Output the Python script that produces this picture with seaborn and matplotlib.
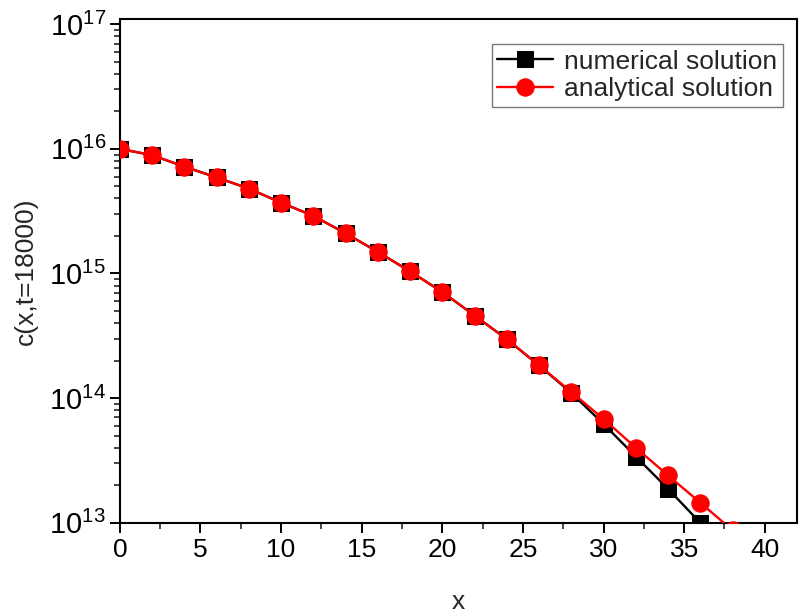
import numpy as np
import pandas as pd
import matplotlib
matplotlib.use("Agg")
import matplotlib.pyplot as plt
import seaborn as sns
from matplotlib.ticker import LogLocator, LogFormatterMathtext, MultipleLocator, NullFormatter

x_num = [0, 2, 4, 6, 8, 10, 12, 14, 16, 18, 20, 22, 24, 26, 28, 30, 32, 34, 36, 38]
c_num = [1.0e16, 8.9e15, 7.2e15, 5.9e15, 4.8e15, 3.7e15, 2.9e15, 2.1e15, 1.49e15, 1.04e15,
         7.1e14, 4.6e14, 2.97e14, 1.83e14, 1.10e14, 6.2e13, 3.4e13, 1.87e13, 1.0e13, 5.0e12]
x_ana = [0, 2, 4, 6, 8, 10, 12, 14, 16, 18, 20, 22, 24, 26, 28, 30, 32, 34, 36, 38]
c_ana = [1.0e16, 8.9e15, 7.2e15, 5.9e15, 4.8e15, 3.7e15, 2.9e15, 2.1e15, 1.49e15, 1.04e15,
         7.1e14, 4.6e14, 2.97e14, 1.83e14, 1.12e14, 6.8e13, 4.0e13, 2.4e13, 1.45e13, 8.7e12]
label_num = "numerical solution"
label_ana = "analytical solution"

sns.set_theme(style="white")
plt.rcParams['font.family'] = ['Liberation Sans', 'DejaVu Sans']
plt.rcParams['mathtext.fontset'] = 'custom'
plt.rcParams['mathtext.rm'] = 'Liberation Sans'
plt.rcParams['mathtext.it'] = 'Liberation Sans:italic'
plt.rcParams['mathtext.bf'] = 'Liberation Sans:bold'

df_num = pd.DataFrame({"x": x_num, "c": c_num})
df_ana = pd.DataFrame({"x": x_ana, "c": c_ana})

fig = plt.figure(figsize=(7.99, 6.15), dpi=100)
ax = fig.add_axes([0.150, 0.150, 0.8475, 0.819])

sns.lineplot(data=df_num, x="x", y="c", ax=ax, color="black", lw=1.7,
             marker="s", markersize=11, markeredgecolor="black", markerfacecolor="black",
             label=label_num, zorder=3)
sns.lineplot(data=df_ana, x="x", y="c", ax=ax, color="#ff0000", lw=1.7,
             marker="o", markersize=12.5, markeredgecolor="#ff0000", markerfacecolor="#ff0000",
             label=label_ana, zorder=4)

ax.set_yscale("log")
ax.set_xlim(0, 42)
ax.set_ylim(1e13, 1.1e17)

ax.xaxis.set_major_locator(MultipleLocator(5))
ax.xaxis.set_minor_locator(MultipleLocator(2.5))
ax.yaxis.set_major_locator(LogLocator(base=10, numticks=10))
ax.yaxis.set_minor_locator(LogLocator(base=10, subs=np.arange(2, 10), numticks=10))
ax.yaxis.set_major_formatter(LogFormatterMathtext())
ax.yaxis.set_minor_formatter(NullFormatter())

ax.tick_params(axis="both", which="major", direction="out", length=7, width=1.4,
               colors="black", bottom=True, left=True, top=False, right=False, pad=4)
ax.tick_params(axis="x", which="major", labelsize=19)
ax.tick_params(axis="y", which="major", labelsize=21, pad=3)
ax.tick_params(axis="both", which="minor", direction="out", length=4, width=1.2,
               bottom=True, left=True, top=False, right=False)

for s in ax.spines.values():
    s.set_visible(True)
    s.set_color("black")
    s.set_linewidth(1.5)

ax.set_xlabel("x", fontsize=19, labelpad=20)
ax.set_ylabel("c(x,t=18000)", fontsize=19, labelpad=8)

leg = ax.legend(loc="upper right", bbox_to_anchor=(0.979, 0.950), borderaxespad=0,
                fontsize=19, frameon=True, fancybox=False, edgecolor="#777777",
                framealpha=1, handlelength=2.1, handletextpad=0.45, borderpad=0.2,
                labelspacing=0.15)
leg.get_frame().set_linewidth(1.0)

fig.savefig("out.png", dpi=100)
